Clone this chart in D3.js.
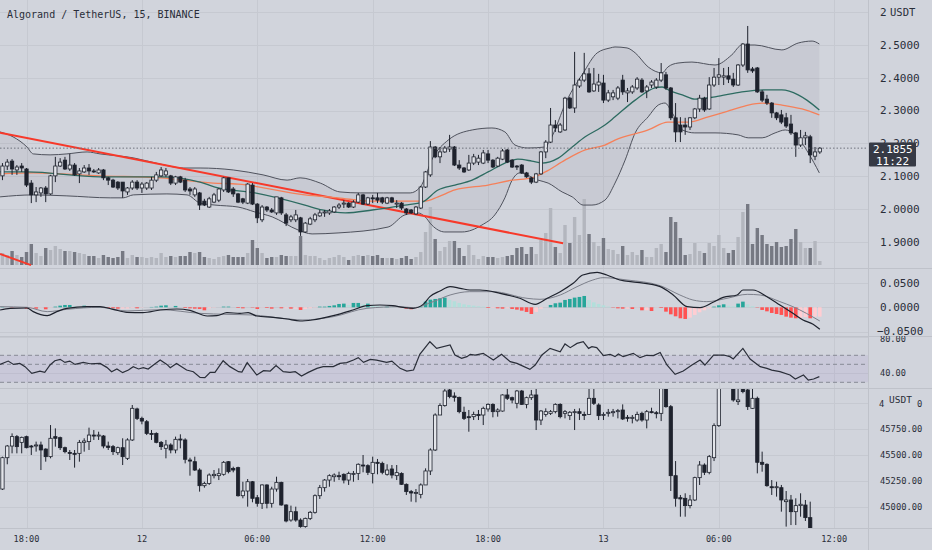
<!DOCTYPE html>
<html><head><meta charset="utf-8">
<script src="https://cdn.jsdelivr.net/npm/d3@7"></script>
<style>
html,body{margin:0;padding:0;background:#d1d4dc;}
svg{display:block;}
text{font-family:"DejaVu Sans Mono",monospace;}
</style></head><body>
<svg id="c" width="932" height="550"></svg>
<script>
// ---------------- DATA ----------------
const title = "Algorand / TetherUS, 15, BINANCE";
const startTime = "2021-09-11T16:45:00Z";
const barMinutes = 15;
const lastPrice = 2.1855;
const countdown = "11:22";
const priceTicks = [2.5, 2.4, 2.3, 2.2, 2.1, 2.0, 1.9];
const priceTopTick = 2.6;          // shown as "2 USDT" (unit label covers the digits)
const macdTicks = [0.05, 0, -0.05];
const rsiTicks = [80, 40];
const rsiLevels = [60, 50, 30];
const btcTicks = [45750, 45500, 45250, 45000];
const btcTopTick = 46000;          // shown as "4 USDT 0"
const unitLabel = "USDT";
const timeTicks = ["2021-09-11T18:00:00Z","2021-09-12T00:00:00Z","2021-09-12T06:00:00Z","2021-09-12T12:00:00Z","2021-09-12T18:00:00Z","2021-09-13T00:00:00Z","2021-09-13T06:00:00Z","2021-09-13T12:00:00Z"];

// ALGO/USDT candles [open, high, low, close]
const algoCandles = [
[2.101,2.140,2.088,2.131],[2.131,2.152,2.119,2.143],[2.146,2.152,2.104,2.122],[2.119,2.134,2.104,2.128],[2.131,2.140,2.113,2.125],
[2.122,2.125,2.067,2.073],[2.079,2.088,2.018,2.043],[2.043,2.067,2.021,2.052],[2.049,2.067,2.037,2.064],[2.064,2.070,2.021,2.046],
[2.046,2.104,2.043,2.101],[2.101,2.159,2.082,2.131],[2.131,2.155,2.128,2.143],[2.149,2.159,2.119,2.122],[2.122,2.168,2.116,2.134],
[2.134,2.140,2.101,2.104],[2.107,2.125,2.079,2.116],[2.113,2.134,2.110,2.125],[2.125,2.137,2.104,2.116],[2.116,2.122,2.110,2.113],
[2.110,2.125,2.107,2.119],[2.119,2.122,2.088,2.095],[2.095,2.098,2.073,2.088],[2.088,2.092,2.064,2.067],[2.082,2.085,2.058,2.064],
[2.082,2.082,2.034,2.055],[2.052,2.067,2.043,2.064],[2.064,2.088,2.058,2.082],[2.082,2.088,2.058,2.064],[2.064,2.082,2.049,2.076],
[2.064,2.082,2.058,2.079],[2.064,2.098,2.058,2.088],[2.088,2.113,2.082,2.104],[2.101,2.128,2.098,2.119],[2.104,2.125,2.098,2.116],
[2.101,2.104,2.073,2.079],[2.079,2.101,2.073,2.098],[2.098,2.101,2.079,2.082],[2.088,2.095,2.052,2.058],[2.061,2.067,2.043,2.055],
[2.043,2.067,2.037,2.061],[2.049,2.052,1.997,2.012],[2.024,2.031,2.009,2.012],[2.006,2.037,2.003,2.031],[2.021,2.049,2.018,2.043],
[2.027,2.064,2.021,2.061],[2.058,2.098,2.052,2.095],[2.095,2.095,2.049,2.052],[2.061,2.067,2.037,2.046],[2.046,2.049,2.018,2.021],
[2.031,2.034,2.015,2.021],[2.018,2.079,2.015,2.076],[2.073,2.079,2.012,2.015],[2.015,2.018,1.957,1.973],[1.967,2.012,1.960,2.006],
[2.006,2.009,1.991,1.997],[1.997,2.003,1.988,1.991],[1.988,2.037,1.982,2.037],[2.034,2.037,1.982,1.988],[1.982,1.988,1.948,1.957],
[1.967,1.982,1.960,1.976],[1.967,1.997,1.960,1.982],[1.973,1.976,1.918,1.930],[1.930,1.960,1.927,1.957],[1.954,1.976,1.951,1.970],
[1.967,1.988,1.960,1.982],[1.979,1.997,1.976,1.988],[1.988,1.997,1.976,1.991],[1.988,2.000,1.982,1.994],[1.991,2.009,1.988,2.006],
[2.006,2.018,2.000,2.012],[2.015,2.027,2.003,2.018],[2.018,2.021,2.003,2.006],[2.006,2.027,2.003,2.021],[2.021,2.049,2.018,2.043],
[2.043,2.046,2.012,2.015],[2.015,2.037,2.012,2.034],[2.034,2.043,2.018,2.031],[2.034,2.049,2.018,2.027],[2.034,2.037,2.015,2.021],
[2.018,2.037,2.015,2.034],[2.034,2.037,2.018,2.021],[2.015,2.027,2.003,2.018],[2.018,2.021,1.997,2.003],[2.000,2.003,1.982,1.988],
[1.997,2.000,1.985,1.988],[1.985,2.009,1.982,2.006],[2.003,2.070,2.000,2.067],[2.067,2.116,2.064,2.113],[2.104,2.207,2.098,2.189],
[2.189,2.192,2.155,2.159],[2.159,2.189,2.140,2.174],[2.174,2.192,2.171,2.186],[2.183,2.226,2.174,2.189],[2.189,2.192,2.131,2.134],
[2.134,2.149,2.119,2.125],[2.125,2.128,2.110,2.113],[2.119,2.165,2.116,2.140],[2.140,2.168,2.134,2.159],[2.143,2.165,2.134,2.155],
[2.140,2.180,2.137,2.171],[2.168,2.180,2.140,2.149],[2.149,2.152,2.125,2.128],[2.131,2.159,2.128,2.155],[2.152,2.183,2.149,2.177],
[2.180,2.183,2.140,2.143],[2.149,2.152,2.125,2.128],[2.131,2.134,2.119,2.128],[2.134,2.137,2.107,2.110],[2.110,2.113,2.095,2.098],
[2.095,2.098,2.076,2.082],[2.082,2.110,2.079,2.107],[2.107,2.177,2.104,2.174],[2.174,2.210,2.155,2.204],[2.204,2.308,2.201,2.256],
[2.256,2.271,2.235,2.247],[2.235,2.262,2.232,2.256],[2.241,2.342,2.238,2.338],[2.338,2.342,2.305,2.308],[2.308,2.479,2.293,2.378],
[2.375,2.399,2.369,2.393],[2.393,2.476,2.387,2.412],[2.412,2.430,2.354,2.357],[2.360,2.430,2.357,2.381],[2.378,2.412,2.357,2.387],
[2.384,2.409,2.323,2.332],[2.332,2.363,2.326,2.354],[2.342,2.363,2.332,2.354],[2.338,2.375,2.332,2.369],[2.393,2.409,2.348,2.357],
[2.354,2.369,2.326,2.360],[2.357,2.378,2.351,2.372],[2.369,2.402,2.363,2.396],[2.393,2.399,2.354,2.357],[2.360,2.378,2.338,2.372],
[2.378,2.393,2.369,2.387],[2.372,2.399,2.366,2.393],[2.393,2.445,2.387,2.415],[2.409,2.418,2.363,2.369],[2.369,2.372,2.271,2.278],
[2.278,2.323,2.204,2.235],[2.256,2.280,2.204,2.235],[2.256,2.278,2.226,2.250],[2.250,2.280,2.241,2.278],[2.278,2.308,2.274,2.305],
[2.305,2.348,2.296,2.338],[2.338,2.342,2.296,2.302],[2.305,2.402,2.302,2.378],[2.378,2.430,2.372,2.402],[2.402,2.460,2.378,2.409],
[2.402,2.430,2.378,2.406],[2.406,2.433,2.384,2.396],[2.396,2.415,2.372,2.378],[2.378,2.442,2.375,2.439],[2.439,2.506,2.433,2.503],
[2.503,2.558,2.415,2.424],[2.427,2.433,2.415,2.421],[2.430,2.433,2.354,2.357],[2.357,2.363,2.326,2.332],[2.335,2.348,2.317,2.323],
[2.323,2.326,2.278,2.293],[2.293,2.296,2.271,2.278],[2.287,2.302,2.259,2.265],[2.278,2.293,2.247,2.253],[2.259,2.287,2.226,2.232],
[2.232,2.235,2.159,2.195],[2.195,2.241,2.189,2.217],[2.217,2.235,2.195,2.223],[2.220,2.226,2.140,2.165],[2.161,2.189,2.149,2.174],
[2.174,2.189,2.168,2.1855]
];

// ALGO volume (thousand ALGO)
const algoVolume = [300,250,350,250,200,325,525,300,225,425,375,475,400,350,350,325,300,275,225,225,
175,250,200,175,200,350,175,250,200,200,175,200,175,300,200,225,200,225,225,325,
300,325,200,175,150,200,225,250,200,200,200,300,625,425,300,175,200,200,250,225,
225,225,725,250,225,225,175,125,175,200,250,200,125,225,250,225,250,225,250,175,
175,175,150,175,225,150,200,325,825,1450,650,350,450,600,600,425,225,500,250,150,
225,200,200,175,200,225,250,425,450,275,450,275,625,800,1425,450,300,1000,550,1200,
750,1650,775,575,475,675,400,375,275,475,250,325,250,375,200,200,425,525,325,1200,
1075,675,250,275,550,350,300,550,475,750,425,300,375,700,1325,1525,525,925,750,525,
475,575,450,475,650,900,575,425,425,600,100];

// Bollinger bands and EMA, read as [bar, price]
const bbUpper = [[-0.5,2.235],[2.2,2.220],[5.1,2.189],[6.4,2.168],[9.9,2.165],[13.4,2.168],[17.6,2.174],[20.3,2.168],[27.2,2.156],[32.8,2.137],[37.6,2.125],[41.1,2.125],[48.0,2.119],[54.2,2.104],[59.2,2.088],[61.9,2.095],[66.1,2.079],[70.2,2.052],[74.4,2.049],[79.2,2.049],[84.8,2.049],[86.9,2.067],[89.6,2.159],[92.7,2.210],[97.7,2.241],[101.8,2.247],[104.5,2.235],[106.6,2.195],[109.3,2.186],[112.9,2.189],[113.9,2.210],[117.4,2.332],[120.8,2.415],[123.7,2.476],[126.4,2.491],[127.4,2.494],[129.9,2.491],[131.6,2.476],[134.3,2.433],[137.2,2.415],[138.4,2.433],[140.5,2.445],[143.4,2.448],[148.2,2.439],[151.7,2.470],[153.8,2.500],[156.5,2.500],[162.1,2.485],[165.5,2.506],[168.4,2.512],[169.9,2.503]];
const bbBasis = [[-0.5,2.113],[5.1,2.113],[20.3,2.098],[32.8,2.098],[41.1,2.082],[44.2,2.067],[52.5,2.049],[62.9,2.012],[66.5,1.997],[71.3,1.988],[76.9,1.997],[83.7,2.012],[87.3,2.021],[90.6,2.058],[94.1,2.073],[97.7,2.088],[101.0,2.113],[104.5,2.140],[107.2,2.152],[110.1,2.146],[112.2,2.140],[115.6,2.155],[118.5,2.189],[121.2,2.220],[125.3,2.256],[127.4,2.281],[131.6,2.332],[135.7,2.369],[137.2,2.372],[138.9,2.360],[141.4,2.348],[144.0,2.335],[148.2,2.342],[153.8,2.357],[158.6,2.363],[162.1,2.363],[165.5,2.348],[167.3,2.332],[169.9,2.302]];
const bbLower = [[-0.5,2.037],[6.4,2.043],[13.4,2.040],[22.4,2.034],[25.1,2.034],[27.2,2.043],[34.2,2.046],[38.4,2.043],[41.1,2.018],[44.2,2.012],[49.0,2.006],[52.5,1.991],[56.1,1.976],[61.5,1.936],[64.4,1.924],[69.8,1.927],[80.2,1.945],[83.7,1.982],[86.4,1.988],[87.9,1.976],[89.3,1.951],[92.0,1.930],[95.6,1.930],[99.7,1.951],[102.4,1.982],[104.5,2.034],[106.0,2.088],[107.6,2.110],[111.4,2.088],[113.5,2.079],[116.4,2.052],[118.5,2.037],[120.8,2.012],[122.6,2.012],[125.3,2.027],[127.4,2.079],[129.5,2.149],[131.6,2.232],[134.3,2.281],[136.4,2.317],[137.8,2.323],[139.3,2.293],[141.4,2.241],[144.0,2.232],[148.2,2.232],[153.0,2.226],[155.1,2.217],[158.0,2.217],[160.7,2.232],[162.8,2.241],[164.9,2.226],[167.6,2.171],[169.9,2.110]];
const emaLine = [[-0.5,2.107],[6.4,2.110],[20.3,2.101],[32.8,2.095],[43.8,2.079],[49.0,2.076],[62.9,2.043],[69.8,2.034],[76.5,2.024],[83.7,2.024],[87.9,2.024],[90.6,2.037],[94.1,2.058],[101.0,2.073],[106.0,2.088],[110.1,2.095],[112.9,2.113],[117.0,2.149],[121.2,2.180],[125.3,2.195],[127.4,2.210],[134.3,2.241],[138.4,2.265],[142.6,2.265],[146.8,2.281],[151.7,2.302],[155.1,2.317],[158.0,2.323],[162.1,2.317],[166.3,2.305],[169.9,2.287]];
// drawn trend lines [bar, price] -> [bar, price]
const trendLines = [[[-0.51,2.2326],[116.6,1.8954]],[[-0.51,1.863],[5.94,1.829]]];

// MACD histogram per bar, MACD and signal lines as [bar, value]
const macdHist = [0.0007,0,-0.0007,-0.0007,-0.0007,-0.0028,-0.0021,-0.0028,-0.0007,-0.0041,
-0.0007,0.0014,0.0034,0.0048,0.0048,0.0021,0.0007,0.0034,0.0014,0.0007,
0.0007,0,-0.0014,-0.0021,-0.0028,-0.0028,-0.0028,-0.0014,-0.0021,-0.0007,
0,0.0007,0.0014,0.0034,0.0041,0.0007,0.0028,0,-0.0014,-0.0021,
-0.0028,-0.0034,-0.0062,-0.0021,-0.0007,0,0.0014,0.0014,0,-0.0014,
-0.0021,0,-0.0007,-0.0034,-0.0007,-0.0014,-0.0028,0,-0.0021,-0.0021,
-0.0028,-0.0028,-0.0055,-0.0034,-0.0021,-0.0007,0.0014,0.0014,0.0028,0.0041,
0.0069,0.0076,0.0048,0.0090,0.0090,0.0062,0.0076,0.0034,0.0021,0.0014,
0.0014,0.0007,0,-0.0007,-0.0028,-0.0041,-0.0021,0.0014,0.0117,0.0158,
0.0172,0.0186,0.0200,0.0152,0.0124,0.0090,0.0062,0.0048,0.0034,0.0021,
0.0014,-0.0014,-0.0014,-0.0021,-0.0028,-0.0021,-0.0034,-0.0048,-0.0069,-0.0096,
-0.0138,-0.0096,-0.0028,0,0.0048,0.0083,0.0096,0.0152,0.0172,0.0200,
0.0214,0.0234,0.0152,0.0103,0.0069,0.0041,0.0014,-0.0007,-0.0021,-0.0028,
-0.0028,-0.0034,-0.0007,-0.0062,-0.0062,-0.0076,-0.0007,-0.0014,-0.0090,-0.0145,
-0.0186,-0.0227,-0.0241,-0.0214,-0.0158,-0.0103,-0.0062,-0.0021,0.0014,0.0041,
0.0062,0.0034,0.0021,0.0076,0.0117,0.0062,0.0021,-0.0007,-0.0055,-0.0083,
-0.0117,-0.0138,-0.0158,-0.0193,-0.0214,-0.0227,-0.0214,-0.0200,-0.0227,-0.0193,-0.0193];
const macdLine = [[-0.5,-0.0056],[1.6,-0.0021],[5.1,-0.0014],[6.4,-0.0090],[9.3,-0.0173],[11.3,-0.0090],[13.4,-0.0021],[17.6,0.0013],[20.3,0.0013],[23.0,-0.0042],[25.9,-0.0104],[29.2,-0.0111],[32.8,-0.0056],[36.3,-0.0035],[39.0,-0.0063],[42.6,-0.0180],[44.6,-0.0173],[46.7,-0.0111],[49.4,-0.0125],[51.1,-0.0111],[52.9,-0.0180],[56.3,-0.0207],[59.2,-0.0242],[61.9,-0.0283],[64.4,-0.0262],[68.8,-0.0173],[72.9,-0.0056],[75.8,0.0034],[78.5,0.0048],[81.2,0.0034],[83.3,0.0000],[85.4,-0.0021],[87.5,0.0061],[88.9,0.0220],[91.0,0.0337],[93.1,0.0426],[95.2,0.0392],[97.2,0.0357],[99.3,0.0357],[103.5,0.0289],[107.6,0.0186],[110.8,0.0061],[113.3,0.0186],[116.0,0.0323],[118.7,0.0496],[120.7,0.0667],[123.7,0.0722],[125.7,0.0667],[128.4,0.0564],[132.0,0.0516],[136.8,0.0426],[139.5,0.0254],[142.4,0.0013],[145.1,-0.0008],[147.8,0.0103],[149.9,0.0206],[152.8,0.0254],[154.0,0.0357],[156.1,0.0357],[159.0,0.0220],[161.7,0.0048],[164.4,-0.0125],[166.5,-0.0262],[168.6,-0.0351],[170.0,-0.0455]];
const macdSignal = [[-0.5,0.0013],[5.1,0.0000],[9.3,-0.0090],[13.4,-0.0042],[20.3,0.0000],[25.9,-0.0076],[32.8,-0.0049],[41.1,-0.0125],[46.7,-0.0146],[52.1,-0.0159],[58.3,-0.0228],[62.5,-0.0262],[68.8,-0.0194],[75.8,-0.0021],[82.7,0.0013],[85.4,-0.0008],[89.6,0.0117],[93.1,0.0254],[97.2,0.0323],[102.0,0.0323],[109.1,0.0186],[111.8,0.0165],[116.0,0.0254],[119.5,0.0426],[122.8,0.0564],[124.9,0.0612],[129.9,0.0564],[136.8,0.0447],[140.9,0.0254],[143.6,0.0151],[146.5,0.0117],[150.7,0.0186],[154.9,0.0268],[157.6,0.0254],[161.7,0.0117],[164.4,0.0013],[170.0,-0.0283]];

// RSI as [bar, value]
const rsiLine = [[-0.5,49.9],[1.2,53.6],[2.3,49.9],[3.6,51.0],[4.7,47.4],[6.1,39.9],[7.8,42.5],[8.8,41.0],[9.9,49.2],[10.9,54.0],[12.0,55.5],[13.0,52.1],[14.0,53.6],[15.1,49.9],[16.8,52.1],[18.2,50.6],[20.3,51.0],[21.7,46.6],[22.7,41.8],[23.8,44.8],[25.0,40.7],[26.2,43.6],[27.2,47.4],[28.3,44.8],[29.3,46.3],[30.3,44.8],[31.4,49.2],[32.8,54.7],[34.2,49.9],[34.9,46.3],[36.2,51.0],[38.3,43.6],[39.7,41.8],[41.1,35.5],[42.1,35.1],[43.2,41.0],[44.2,41.0],[45.9,54.0],[47.3,47.4],[49.1,41.8],[49.8,41.4],[50.9,51.8],[52.9,38.1],[54.3,42.9],[55.7,42.5],[56.9,48.5],[58.4,41.8],[59.8,41.0],[60.9,41.8],[62.2,37.0],[63.6,41.0],[65.4,45.5],[66.7,47.4],[68.8,47.4],[70.2,51.0],[71.6,51.8],[73.0,54.7],[74.0,57.4],[75.1,52.1],[76.5,55.5],[77.8,54.7],[79.9,52.1],[81.0,53.6],[82.7,45.5],[84.1,42.5],[85.5,43.6],[86.8,61.1],[88.9,75.1],[90.3,67.7],[93.1,71.4],[94.1,60.3],[95.5,56.6],[96.6,58.5],[97.3,61.1],[98.3,60.3],[100.0,62.2],[102.1,54.7],[103.8,61.1],[105.6,52.9],[107.0,51.0],[109.7,44.4],[110.8,49.2],[112.2,60.3],[113.9,67.7],[116.0,64.0],[117.0,72.6],[118.1,68.5],[119.5,73.2],[120.8,75.1],[121.9,67.7],[122.6,69.6],[123.6,68.5],[125.0,59.6],[126.4,61.1],[127.4,58.5],[128.1,61.5],[129.1,58.5],[131.2,62.2],[132.6,57.4],[134.0,60.0],[135.4,59.6],[136.8,63.2],[138.2,49.2],[139.9,38.9],[141.6,42.5],[143.4,49.2],[145.1,54.7],[146.1,49.2],[147.9,60.3],[150.0,60.3],[151.3,58.5],[152.0,55.9],[154.0,67.7],[155.5,55.9],[157.6,47.4],[159.0,45.5],[160.0,43.6],[161.7,41.8],[163.8,38.1],[164.9,33.7],[166.6,38.1],[167.6,32.5],[168.7,33.7],[169.9,36.3]];

// BTC/USDT comparison candles [open, high, low, close]; null = outside the visible pane
const btcCandles = [
[45175,45485,45166,45475],[45475,45597,45412,45587],[45587,45708,45517,45677],[45677,45692,45517,45581],[45622,45677,45517,45670],
[45677,45686,45565,45571],[45587,45597,45501,45581],[45590,45629,45533,45597],[45597,45629,45357,45549],[45558,45565,45437,45485],
[45485,45788,45469,45661],[45677,45756,45581,45661],[45667,45677,45549,45571],[45571,45581,45517,45533],[45526,45549,45453,45517],
[45517,45549,45380,45510],[45517,45645,45437,45622],[45622,45661,45533,45635],[45629,45763,45549,45692],[45692,45740,45645,45683],
[45683,45724,45645,45692],[45683,45692,45565,45587],[45587,45629,45549,45574],[45581,45597,45501,45533],[45523,45581,45501,45571],
[45571,45661,45405,45485],[45469,45661,45453,45645],[45645,45980,45635,45948],[45942,45954,45836,45852],[45852,45868,45795,45826],
[45820,45836,45692,45708],[45708,45740,45645,45699],[45708,45718,45613,45622],[45622,45635,45549,45581],[45565,45645,45469,45597],
[45597,45613,45517,45549],[45549,45677,45517,45651],[45654,45699,45565,45645],[45645,45661,45421,45460],[45453,45475,45303,45443],
[45437,45485,45348,45357],[45357,45373,45150,45207],[45207,45245,45188,45229],[45229,45325,45214,45309],[45303,45357,45277,45316],
[45303,45373,45261,45322],[45316,45443,45303,45431],[45437,45443,45325,45341],[45373,45389,45335,45357],[45380,45389,45102,45111],
[45111,45245,45086,45156],[45156,45271,45006,45245],[45245,45252,45048,45086],[45092,45118,45006,45038],[45038,45220,44984,45214],
[45214,45220,44990,45038],[45038,45197,44997,45175],[45175,45293,45150,45239],[45239,45245,45016,45022],[45022,45029,44856,44869],
[44878,45016,44862,44958],[44958,45006,44862,44878],[44878,44894,44805,44815],[44815,44901,44805,44894],[44894,44965,44878,44952],
[44952,45124,44939,45111],[45111,45214,45080,45188],[45188,45271,45150,45261],[45261,45316,45197,45303],[45293,45325,45245,45309],
[45303,45341,45261,45293],[45316,45325,45229,45261],[45261,45341,45214,45325],[45319,45348,45245,45325],[45325,45421,45261,45412],
[45405,45501,45335,45399],[45399,45412,45309,45335],[45325,45485,45229,45431],[45431,45463,45316,45421],[45421,45437,45316,45335],
[45316,45412,45303,45357],[45367,45405,45277,45309],[45303,45405,45261,45332],[45325,45335,45214,45220],[45220,45229,45118,45150],
[45150,45166,45054,45137],[45137,45175,45048,45143],[45124,45229,45086,45214],[45214,45373,45214,45348],[45348,45565,45309,45549],
[45549,45900,45539,45884],[45884,45996,45884,45974],[45974,46140,45964,46114],[46124,46140,46044,46060],[46066,46101,46012,46053],
[46053,46060,45900,45916],[45910,45964,45836,45852],[45868,45932,45724,45862],[45868,45916,45836,45890],[45890,45932,45836,45878],
[45884,45964,45788,45948],[45942,45996,45916,45986],[45986,45996,45862,45916],[45916,45948,45868,45932],[45922,46082,45916,46076],
[46076,46140,46028,46044],[46050,46060,45996,46028],[45996,46124,45948,46114],[46114,46124,45980,45986],[45986,46060,45948,46050],
[46050,46124,46028,46076],[46076,46140,45740,45836],[45836,45932,45788,45922],[45890,45948,45868,45916],[45900,45932,45884,45916],
[45916,45996,45900,45986],[45986,45996,45852,45868],[45900,45932,45852,45916],[45878,45922,45836,45910],[45910,45942,45740,45916],
[45916,45948,45836,45900],[45890,45916,45836,45884],[45890,46140,45884,46044],[46044,46140,45980,45996],[45980,45996,45836,45878],
[45884,45910,45836,45890],[45900,45942,45868,45910],[45906,45942,45868,45916],[45916,45942,45852,45926],[45932,45986,45836,45846],
[45862,45884,45820,45852],[45852,45884,45804,45862],[45836,45916,45820,45890],[45900,45916,45820,45836],[45836,45932,45756,45916],
[45916,45954,45900,45910],[45906,45922,45852,45900],[45900,46156,45826,46140],[46140,46146,45954,45964],[45964,45980,45156,45303],
[45303,45443,45006,45086],[45092,45118,44910,45080],[45086,45134,44910,45016],[45016,45118,44990,45070],[45070,45293,45060,45284],
[45284,45443,45214,45405],[45405,45421,45309,45335],[45335,45501,45316,45485],[45475,45804,45443,45782],[45782,46260,45770,46200],
null,null,[46180,46250,46012,46028],[46012,46140,45980,46028],[46140,46156,46092,46108],
[46124,46140,45932,45964],[45948,46140,45942,46044],[46044,46060,45325,45431],[45431,45533,45341,45412],[45412,45421,45197,45207],
[45197,45261,45118,45188],[45188,45245,45102,45197],[45188,45214,44958,45070],[45054,45156,44815,45070],[45070,45118,44830,44958],
[44958,45086,44830,45016],[45016,45134,44910,45029],[45022,45070,44869,44901],[44901,45054,44760,44780]
];

// ---------------- LAYOUT ----------------
const W = 932, H = 550, PR = 868;
const panes = { top:[0,268], macd:[268,336], rsi:[336,388], low:[388,528] };
const BG = "#d1d4dc", GRID = "#c6c9d1", INK = "#1e222d", TXT = "#2a2e39";

const svg = d3.select("#c");
const t0 = Date.parse(startTime);
const barTime = i => new Date(t0 + i * barMinutes * 60000);
const x = d3.scaleUtc().domain([barTime(-0.512), barTime(180.02)]).range([0, PR]);
const bx = i => x(barTime(i));

const yP = d3.scaleLinear().domain([1.9, 2.5]).range([241.8, 45]);
const yV = d3.scaleLinear().domain([0, 2500]).range([265, 165]);
const yM = d3.scaleLinear().domain([-0.05, 0.05]).range([331.5, 283.1]);
const yR = d3.scaleLinear().domain([40, 80]).range([373.3, 337.3]);
const yB = d3.scaleLinear().domain([45000, 45750]).range([507.3, 429]);

svg.append("rect").attr("width", W).attr("height", H).attr("fill", BG);

const defs = svg.append("defs");
Object.entries(panes).forEach(([k, [a, b]]) => {
  defs.append("clipPath").attr("id", "clip-" + k).append("rect").attr("x", 0).attr("y", a).attr("width", PR).attr("height", b - a);
  defs.append("clipPath").attr("id", "aclip-" + k).append("rect").attr("x", PR).attr("y", a).attr("width", W - PR).attr("height", b - a);
});
const pane = k => svg.append("g").attr("clip-path", `url(#clip-${k})`);

// ---------- grid ----------
const grid = svg.append("g").attr("stroke", GRID).attr("stroke-width", 1);
const tickDates = timeTicks.map(d => new Date(d));
tickDates.forEach(d => grid.append("line").attr("x1", Math.round(x(d)) + 0.5).attr("x2", Math.round(x(d)) + 0.5).attr("y1", 0).attr("y2", panes.low[1]));
const hgrid = (vals, sc, [a, b]) => vals.forEach(v => { const yy = sc(v); if (yy > a && yy < b) grid.append("line").attr("x1", 0).attr("x2", PR).attr("y1", Math.round(yy) + 0.5).attr("y2", Math.round(yy) + 0.5); });
hgrid([priceTopTick, ...priceTicks], yP, panes.top);
hgrid(macdTicks, yM, panes.macd);
hgrid(rsiTicks, yR, panes.rsi);
hgrid([btcTopTick, ...btcTicks], yB, panes.low);

// ---------- top pane ----------
const gTop = pane("top");
const curve = d3.curveMonotoneX;
const lineP = d3.line().x(d => bx(d[0])).y(d => yP(d[1])).curve(curve);
const upperPath = lineP(bbUpper);
const lowerPath = lineP(bbLower.slice().reverse());
gTop.append("path").attr("d", upperPath + "L" + lowerPath.slice(1) + "Z").attr("fill", "rgba(110,113,125,0.09)");

// volume
gTop.append("g").selectAll("rect").data(algoVolume).join("rect")
  .attr("x", (d, i) => bx(i) - 1.7).attr("width", 3.4)
  .attr("y", d => yV(d)).attr("height", d => yV(0) - yV(d))
  .attr("fill", (d, i) => algoCandles[i][3] >= algoCandles[i][0] ? "#b3b6be" : "#767983");

gTop.append("path").attr("d", lineP(bbUpper)).attr("fill", "none").attr("stroke", "#4f525d").attr("stroke-width", 1);
gTop.append("path").attr("d", lineP(bbLower)).attr("fill", "none").attr("stroke", "#4f525d").attr("stroke-width", 1);

const lineT = d3.line().x(d => bx(d[0])).y(d => yP(d[1]));
trendLines.forEach(tl => gTop.append("path").attr("d", lineT(tl))
  .attr("stroke", "#f7392a").attr("stroke-width", 2).attr("fill", "none"));

gTop.append("path").attr("d", lineP(emaLine)).attr("fill", "none").attr("stroke", "#f5805a").attr("stroke-width", 1.3);
gTop.append("path").attr("d", lineP(bbBasis)).attr("fill", "none").attr("stroke", "#2d6b61").attr("stroke-width", 1.3);

function drawCandles(g, data, y, w) {
  const gg = g.append("g");
  data.forEach((d, i) => {
    if (!d) return;
    const [o, h, l, c] = d, cx = bx(i), up = c >= o;
    gg.append("line").attr("x1", cx).attr("x2", cx).attr("y1", y(h)).attr("y2", y(l)).attr("stroke", INK).attr("stroke-width", 1);
    const top = y(Math.max(o, c)), bot = y(Math.min(o, c));
    gg.append("rect").attr("x", cx - w / 2).attr("y", top).attr("width", w).attr("height", Math.max(bot - top, 1))
      .attr("fill", up ? "#e3e5ea" : INK).attr("stroke", INK).attr("stroke-width", 0.8);
  });
}
drawCandles(gTop, algoCandles, yP, 3.3);

gTop.append("line").attr("x1", 0).attr("x2", PR).attr("y1", yP(lastPrice)).attr("y2", yP(lastPrice))
  .attr("stroke", "#6f727d").attr("stroke-width", 1).attr("stroke-dasharray", "1.5,2");

// ---------- MACD pane ----------
const gM = pane("macd");
gM.append("g").selectAll("rect").data(macdHist).join("rect")
  .attr("x", (d, i) => bx(i) - 1.8).attr("width", 3.6)
  .attr("y", d => Math.min(yM(d), yM(0))).attr("height", d => Math.abs(yM(d) - yM(0)))
  .attr("fill", (d, i) => {
    const p = i > 0 ? macdHist[i - 1] : d;
    if (d >= 0) return d >= p ? "#26a69a" : "#b2dfdb";
    return d < p ? "#ff5252" : "#ffcdd2";
  });
const lineM = d3.line().x(d => bx(d[0])).y(d => yM(d[1])).curve(curve);
gM.append("path").attr("d", lineM(macdSignal)).attr("fill", "none").attr("stroke", "#7d808b").attr("stroke-width", 1);
gM.append("path").attr("d", lineM(macdLine)).attr("fill", "none").attr("stroke", "#1e222d").attr("stroke-width", 1.2);

// ---------- RSI pane ----------
const gR = pane("rsi");
gR.append("rect").attr("x", 0).attr("width", PR).attr("y", yR(rsiLevels[0])).attr("height", yR(rsiLevels[2]) - yR(rsiLevels[0]))
  .attr("fill", "rgba(126,87,194,0.09)");
rsiLevels.forEach(v => gR.append("line").attr("x1", 0).attr("x2", PR).attr("y1", yR(v)).attr("y2", yR(v))
  .attr("stroke", "#878a95").attr("stroke-width", 1).attr("stroke-dasharray", "4,3"));
gR.append("path").attr("d", d3.line().x(d => bx(d[0])).y(d => yR(d[1])).curve(d3.curveLinear)(rsiLine))
  .attr("fill", "none").attr("stroke", "#2a2e39").attr("stroke-width", 1.2);

// ---------- lower pane (BTC) ----------
const gL = pane("low");
drawCandles(gL, btcCandles, yB, 3.3);

// ---------- separators ----------
const sep = svg.append("g").attr("stroke", "#bfc2ca").attr("stroke-width", 1);
[panes.top[1], panes.macd[1], panes.rsi[1], panes.low[1]].forEach(v => sep.append("line").attr("x1", 0).attr("x2", W).attr("y1", v + 0.5).attr("y2", v + 0.5));
sep.append("line").attr("x1", PR + 0.5).attr("x2", PR + 0.5).attr("y1", 0).attr("y2", H);

// ---------- axes text ----------
const ax = svg.append("g").attr("fill", TXT);
const aText = (g, s, xx, yy, size) => g.append("text").attr("x", xx).attr("y", yy).attr("dy", "0.35em").attr("font-size", size).text(s);
const gAT = ax.append("g").attr("clip-path", "url(#aclip-top)");
priceTicks.forEach(v => aText(gAT, d3.format(".4f")(v), 880, yP(v), 11));
// top tick partly covered by the unit label: only its first digit shows
aText(gAT, String(priceTopTick).charAt(0), 880, yP(priceTopTick), 11);
aText(gAT, unitLabel, 890, yP(priceTopTick), 10.5);

const gAM = ax.append("g").attr("clip-path", "url(#aclip-macd)");
macdTicks.forEach(v => aText(gAM, d3.format(".4f")(v), v < 0 ? 877 : 880, yM(v), 11));
const gAR = ax.append("g").attr("clip-path", "url(#aclip-rsi)");
rsiTicks.forEach(v => aText(gAR, d3.format(".2f")(v), 880, v === 80 ? yR(v) + 1.2 : yR(v), 8.6));
const gAL = ax.append("g").attr("clip-path", "url(#aclip-low)");
btcTicks.forEach(v => aText(gAL, d3.format(".2f")(v), 880, yB(v), 8.8));
const btcTopStr = d3.format(".2f")(btcTopTick);
aText(gAL, btcTopStr.charAt(0), 879, yB(btcTopTick) + 1, 8.8);
aText(gAL, unitLabel, 889, yB(btcTopTick) - 3, 9.5);
aText(gAL, btcTopStr.charAt(btcTopStr.length - 1), 917, yB(btcTopTick) + 1.5, 8.8);

// last price label
const lp = svg.append("g");
lp.append("rect").attr("x", 869).attr("y", yP(lastPrice) - 5.6).attr("width", 47).attr("height", 24).attr("rx", 1).attr("fill", "#363a45");
lp.append("text").attr("x", 873).attr("y", yP(lastPrice) + 0.5).attr("dy", "0.35em").attr("font-size", 11).attr("fill", "#ffffff").text(d3.format(".4f")(lastPrice));
lp.append("text").attr("x", 876).attr("y", yP(lastPrice) + 12.5).attr("dy", "0.35em").attr("font-size", 11).attr("fill", "#ffffff").text(countdown);

// time axis
const fmt = d => d.getUTCHours() === 0 ? d3.utcFormat("%-d")(d) : d3.utcFormat("%H:%M")(d);
tickDates.forEach(d => ax.append("text").attr("x", x(d)).attr("y", 539).attr("dy", "0.35em").attr("text-anchor", "middle").attr("font-size", 8.6).text(fmt(d)));

// title
svg.append("text").attr("x", 7).attr("y", 14).attr("dy", "0.35em").attr("font-size", 10).attr("fill", TXT).text(title);
</script>
</body></html>
